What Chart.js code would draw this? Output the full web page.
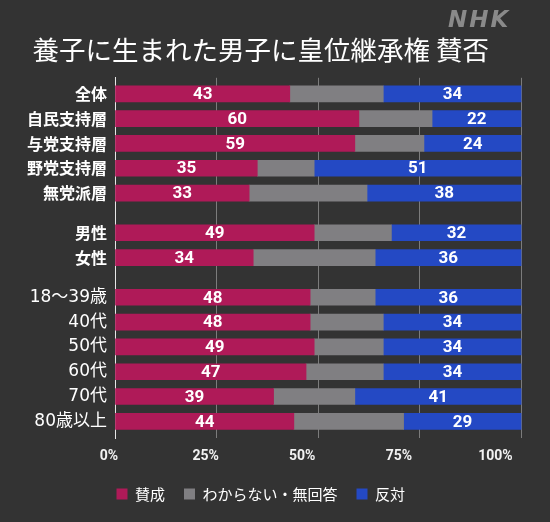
<!DOCTYPE html>
<html><head><meta charset="utf-8">
<script src="https://cdn.jsdelivr.net/npm/chart.js@4/dist/chart.umd.min.js"></script>
<style>
html,body{margin:0;padding:0;background:#333333;}
#wrap{width:550px;height:522px;position:relative;}
</style>
</head><body>
<div id="wrap"><canvas id="c" width="550" height="522"></canvas></div>
<script>
const categories = ['全体','自民支持層','与党支持層','野党支持層','無党派層','男性','女性','18〜39歳','40代','50代','60代','70代','80歳以上'];
const groups = [0,0,0,0,0,1,1,2,2,2,2,2,2];
const agree   = [43,60,59,35,33,49,34,48,48,49,47,39,44];
const unknown = [23,18,17,14,29,19,30,16,18,17,19,20,27];
const oppose  = [34,22,24,51,38,32,36,36,34,34,34,41,29];
const xTicks = [0,25,50,75,100];
const seriesNames = ['賛成','わからない・無回答','反対'];
const titleText = '養子に生まれた男子に皇位継承権 賛否';

const colors = ['#AF1A58','#807F82','#2449C4'];
const GROUP_GAP = 0.6;
const rowPos = categories.map((c,i)=>i+groups[i]*GROUP_GAP);
const toPts = arr => arr.map((v,i)=>({x:v,y:rowPos[i]}));

const valueLabels = {
  id:'valueLabels',
  afterDatasetsDraw(chart){
    const ctx = chart.ctx;
    ctx.save();
    ctx.font = 'bold 17px Roboto, sans-serif';
    ctx.fillStyle = '#ffffff';
    ctx.textAlign = 'center';
    ctx.textBaseline = 'middle';
    [0,2].forEach(di=>{
      const meta = chart.getDatasetMeta(di);
      meta.data.forEach((el,i)=>{
        const p = el.getProps(['x','base','y'], true);
        ctx.fillText(String(chart.data.datasets[di].data[i].x), (p.x+p.base)/2, p.y+1);
      });
    });
    ctx.restore();
  }
};
const logo = {
  id:'logo',
  afterDraw(chart){
    const ctx = chart.ctx;
    ctx.save();
    ctx.font = 'oblique bold 23px "DejaVu Sans", sans-serif';
    ctx.fillStyle = '#8a8a8a';
    ctx.textAlign = 'left';
    ctx.textBaseline = 'alphabetic';
    try { ctx.letterSpacing = '2px'; } catch(e) {}
    ctx.fillText('NHK', 448, 27);
    ctx.restore();
  }
};

new Chart(document.getElementById('c'), {
  type:'bar',
  data:{
    datasets:[
      {label:seriesNames[0], data:toPts(agree), backgroundColor:colors[0], borderWidth:0},
      {label:seriesNames[1], data:toPts(unknown), backgroundColor:colors[1], borderWidth:0},
      {label:seriesNames[2], data:toPts(oppose), backgroundColor:colors[2], borderWidth:0}
    ]
  },
  options:{
    indexAxis:'y',
    responsive:false,
    animation:false,
    devicePixelRatio:1,
    barThickness:16,
    layout:{padding:{left:0,right:28.5,top:0,bottom:10.5}},
    scales:{
      x:{
        type:'linear', stacked:true, min:0, max:100, position:'bottom',
        afterBuildTicks: s => { s.ticks = xTicks.map(v=>({value:v})); },
        ticks:{display:false},
        grid:{drawTicks:false, color: c => c.tick && c.tick.value===0 ? 'rgba(0,0,0,0)' : '#7c7c7c', lineWidth:1},
        border:{display:false}
      },
      x2:{
        type:'linear', min:1.554, max:106.73, position:'bottom',
        afterBuildTicks: s => { s.ticks = xTicks.map(v=>({value:v})); },
        ticks:{color:'#f2f2f2', padding:10, autoSkip:false, maxRotation:0,
          font:{family:'Roboto, sans-serif', size:14, weight:'bold'},
          callback: v => v + '%'},
        grid:{display:false, drawTicks:false},
        border:{display:false},
        afterFit: s => { s.paddingLeft = 0; s.paddingRight = 0; s.height = 29.5; }
      },
      y:{
        type:'linear', stacked:true, reverse:true, offset:false, min:-0.645, max:13.871,
        afterBuildTicks: s => { s.ticks = rowPos.map(v=>({value:v})); },
        afterFit: s => { s.width = 115; s.paddingTop = 0; s.paddingBottom = 0; },
        ticks:{color:'#ffffff', padding:8, autoSkip:false,
          callback: (v,i) => categories[i],
          font: c => (groups[c.index] < 2)
            ? {family:'"Noto Sans CJK JP", sans-serif', size:16, weight:'bold'}
            : {family:'"DejaVu Sans", "Noto Sans CJK JP", sans-serif', size:17, weight:'normal'}
        },
        grid:{drawTicks:false, offset:false, color:'rgba(0,0,0,0)'},
        border:{display:true, color:'#e6e6e6', width:1}
      }
    },
    plugins:{
      title:{display:true, text:titleText, color:'#ffffff',
        font:{family:'"Noto Sans CJK JP", sans-serif', size:26.5, weight:'normal', lineHeight:1.2},
        padding:{top:34,bottom:12}},
      legend:{display:true, position:'bottom',
        labels:{color:'#ffffff', boxWidth:11, boxHeight:11, padding:19,
          font:{family:'"Noto Sans CJK JP", sans-serif', size:15}}},
      tooltip:{enabled:false}
    }
  },
  plugins:[valueLabels, logo]
});
</script>
</body></html>
